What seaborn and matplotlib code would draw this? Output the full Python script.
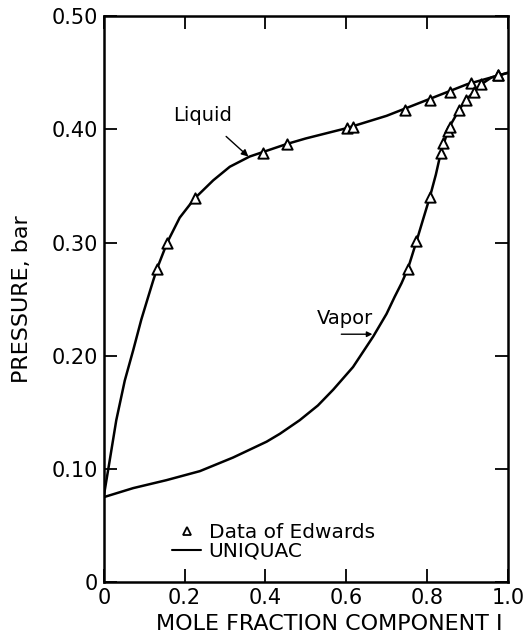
import matplotlib
matplotlib.use("Agg")
import matplotlib.pyplot as plt
from matplotlib.lines import Line2D
import seaborn as sns
import pandas as pd

# ---- experimental data (Data of Edwards) ----
liq_x = [0.132, 0.157, 0.225, 0.394, 0.453, 0.601, 0.616, 0.745, 0.807, 0.858, 0.908, 0.976]
liq_p = [0.277, 0.300, 0.339, 0.379, 0.387, 0.401, 0.402, 0.417, 0.426, 0.433, 0.441, 0.448]
vap_x = [0.753, 0.774, 0.807, 0.834, 0.840, 0.852, 0.858, 0.879, 0.896, 0.916, 0.935, 0.976]
vap_p = [0.277, 0.301, 0.340, 0.379, 0.388, 0.399, 0.402, 0.417, 0.426, 0.433, 0.440, 0.448]

# ---- UNIQUAC curves ----
liq_curve_x = [0.0, 0.002, 0.015, 0.031, 0.052, 0.073, 0.093, 0.110, 0.122, 0.132,
               0.157, 0.188, 0.225, 0.271, 0.312, 0.361, 0.394, 0.452, 0.5, 0.6, 0.7, 0.8, 0.9,
               0.95, 1.0]
liq_curve_p = [0.075, 0.080, 0.108, 0.143, 0.178, 0.205, 0.232, 0.252, 0.266, 0.277,
               0.300, 0.322, 0.339, 0.355, 0.367, 0.376, 0.380, 0.387, 0.392, 0.401, 0.412, 0.426,
               0.440, 0.445, 0.450]
vap_curve_x = [0.0, 0.073, 0.155, 0.238, 0.320, 0.403, 0.436, 0.485, 0.53, 0.568, 0.617, 0.667,
               0.700, 0.720, 0.737, 0.753, 0.774, 0.790, 0.807, 0.822, 0.834, 0.852, 0.860, 0.879,
               0.896, 0.916, 0.935, 0.96, 1.0]
vap_curve_p = [0.075, 0.083, 0.090, 0.098, 0.110, 0.124, 0.131, 0.143, 0.156, 0.170, 0.190, 0.217,
               0.237, 0.252, 0.264, 0.277, 0.301, 0.320, 0.340, 0.360, 0.379, 0.399, 0.405, 0.417,
               0.426, 0.433, 0.440, 0.446, 0.450]

x_ticks = [0, 0.2, 0.4, 0.6, 0.8, 1.0]
x_ticklabels = ["0", "0.2", "0.4", "0.6", "0.8", "1.0"]
y_ticks = [0, 0.1, 0.2, 0.3, 0.4, 0.5]
y_ticklabels = ["0", "0.10", "0.20", "0.30", "0.40", "0.50"]

sns.set_style("ticks")
plt.rcParams['font.family'] = ['DejaVu Sans']
plt.rcParams.update({"text.color": "black", "axes.labelcolor": "black",
                     "xtick.color": "black", "ytick.color": "black"})

fig = plt.figure(figsize=(5.24, 6.4), dpi=100)
ax = fig.add_axes([0.198, 0.0906, 0.771, 0.884])

sns.lineplot(x=liq_curve_x, y=liq_curve_p, sort=False, estimator=None, color="black", lw=1.8, ax=ax)
sns.lineplot(x=vap_curve_x, y=vap_curve_p, sort=False, estimator=None, color="black", lw=1.8, ax=ax)

pts = pd.DataFrame({"x": liq_x + vap_x, "p": liq_p + vap_p})
sns.scatterplot(data=pts, x="x", y="p", marker="^", s=55, facecolor="white",
                edgecolor="black", linewidth=1.4, ax=ax, zorder=3)

ax.set_xlim(0, 1.0)
ax.set_ylim(0, 0.5)
ax.set_xticks(x_ticks)
ax.set_xticklabels(x_ticklabels)
ax.set_yticks(y_ticks)
ax.set_yticklabels(y_ticklabels)
ax.tick_params(direction="in", length=9.5, width=1.3, top=True, right=True,
               labelsize=15, colors="black")
ax.tick_params(axis="y", pad=4)
ax.tick_params(axis="x", pad=4)
for s in ax.spines.values():
    s.set_linewidth(1.8)
    s.set_color("black")

ax.set_xlabel("MOLE FRACTION COMPONENT I", fontsize=16)
ax.xaxis.set_label_coords(0.559, -0.056)
ax.set_ylabel("PRESSURE, bar", fontsize=16)
ax.yaxis.set_label_coords(-0.178, 0.5)

ax.annotate("Liquid", xy=(0.358, 0.376), xytext=(0.245, 0.4125),
            ha="center", va="center", fontsize=14,
            arrowprops=dict(arrowstyle="-|>", color="black", lw=1.0,
                            shrinkA=9, shrinkB=0, mutation_scale=10))
ax.annotate("", xy=(0.665, 0.219), xytext=(0.588, 0.219),
            arrowprops=dict(arrowstyle="-|>", color="black", lw=1.0,
                            shrinkA=0, shrinkB=0, mutation_scale=8))
ax.text(0.598, 0.233, "Vapor", ha="center", va="center", fontsize=14)

handles = [Line2D([], [], marker="^", linestyle="none", markerfacecolor="white",
                  markeredgecolor="black", markeredgewidth=1.3, markersize=6),
           Line2D([], [], color="black", lw=1.5)]
leg = ax.legend(handles, ["Data of Edwards", "UNIQUAC"], loc="lower left",
                bbox_to_anchor=(0.155, 0.027), frameon=False, fontsize=14.5,
                handlelength=1.4, handletextpad=0.4, labelspacing=0.0,
                borderaxespad=0.0, borderpad=0.3)

fig.savefig("out.png", dpi=100, facecolor="white")
